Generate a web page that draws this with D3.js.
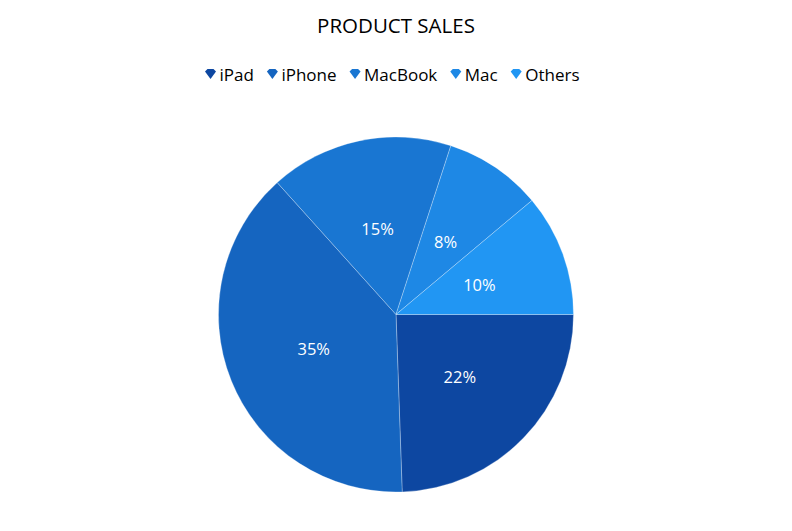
<!DOCTYPE html>
<html><head><meta charset="utf-8">
<script src="https://cdn.jsdelivr.net/npm/d3@7"></script>
<style>body{margin:0;background:#fff;} text{font-family:"Open Sans","Noto Sans",sans-serif;}</style>
</head><body>
<svg id="c" width="792" height="531"></svg>
<script>
const title = "PRODUCT SALES";
const categories = ["iPad", "iPhone", "MacBook", "Mac", "Others"];
const values = [22, 35, 15, 8, 10];
const colors = ["#0D47A1", "#1565C0", "#1976D2", "#1E88E5", "#2196F3"];

const svg = d3.select("#c");
const W = 792, H = 531;
const cx = 396, cy = 314.5, R = 177.5;

svg.append("text").attr("x", W/2).attr("y", 33).attr("text-anchor","middle")
  .attr("font-size", 20.5).attr("fill","#000").text(title);

const data = categories.map((c,i)=>({cat:c, value:values[i], color:colors[i]}));
const pie = d3.pie().value(d=>d.value).sort(null).startAngle(Math.PI/2).endAngle(Math.PI/2 + 2*Math.PI);
const arcs = pie(data);
const arc = d3.arc().innerRadius(0).outerRadius(R);
const labelArc = d3.arc().innerRadius(R*0.5).outerRadius(R*0.5);

const g = svg.append("g").attr("transform", `translate(${cx},${cy})`);
g.selectAll("path").data(arcs).join("path")
  .attr("d", arc).attr("fill", d=>d.data.color)
  .attr("stroke", "rgba(255,255,255,0.35)").attr("stroke-width", 0.8);
g.selectAll("text.lbl").data(arcs).join("text").attr("class","lbl")
  .attr("transform", d=>{ const c = labelArc.centroid(d); return `translate(${c[0]},${c[1]+1.5})`; })
  .attr("text-anchor","middle").attr("dy","0.35em")
  .attr("font-size", 16.5).attr("fill","#fff")
  .text(d=>d.data.value + "%");

// legend
const leg = svg.append("g");
const fs = 17, iconW = 12, gapIcon = 3, gapItem = 12.5;
const tmp = leg.append("text").attr("font-size", fs);
const widths = categories.map(c=>{ tmp.text(c); return tmp.node().getComputedTextLength(); });
tmp.remove();
const total = widths.reduce((a,w)=>a+iconW+gapIcon+w,0) + gapItem*(categories.length-1);
let x = W/2 - total/2 - 4;
const ly = 75;
data.forEach((d,i)=>{
  const it = leg.append("g").attr("transform", `translate(${x},${ly})`);
  it.append("path").attr("d", `M0.5,-3.5 L3,-6 L9,-6 L11.5,-3.5 L6,4 Z`).attr("fill", d.color);
  it.append("text").attr("x", iconW+gapIcon).attr("y", 0).attr("dy","0.35em")
    .attr("font-size", fs).attr("fill","#000").text(d.cat);
  x += iconW + gapIcon + widths[i] + gapItem;
});
</script>
</body></html>
